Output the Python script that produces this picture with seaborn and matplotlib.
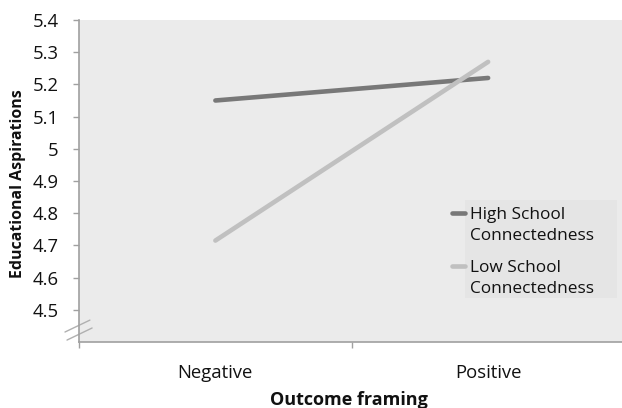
import numpy as np
import pandas as pd
import matplotlib
matplotlib.use("Agg")
import matplotlib.pyplot as plt
from matplotlib.legend_handler import HandlerLine2D
from matplotlib.patches import Rectangle
import seaborn as sns

# data
framing = ["Negative", "Positive"]
high_conn = [5.15, 5.22]
low_conn = [4.715, 5.27]
groups = ["High School\nConnectedness", "Low School\nConnectedness"]
yticks = [4.5, 4.6, 4.7, 4.8, 4.9, 5.0, 5.1, 5.2, 5.3, 5.4]
ytick_labels = ["4.5", "4.6", "4.7", "4.8", "4.9", "5", "5.1", "5.2", "5.3", "5.4"]
colors = ["#787878", "#c0c0c0"]

df = pd.DataFrame({
    "framing": framing * 2,
    "value": high_conn + low_conn,
    "group": [groups[0]] * 2 + [groups[1]] * 2,
})

sns.set_style("white")
plt.rcParams["font.family"] = ["Open Sans", "DejaVu Sans"]
plt.rcParams["text.color"] = "#111111"
plt.rcParams["xtick.color"] = "#a0a0a0"
plt.rcParams["ytick.color"] = "#a0a0a0"
plt.rcParams["xtick.labelcolor"] = "#111111"
plt.rcParams["ytick.labelcolor"] = "#111111"
plt.rcParams["axes.labelcolor"] = "#111111"

fig = plt.figure(figsize=(6.22, 4.08), dpi=100)
ax = fig.add_axes([79 / 622, 66 / 408, 545.5 / 622, 322 / 408])
ax.set_facecolor("#ebebeb")

sns.lineplot(data=df, x="framing", y="value", hue="group",
             palette=colors, linewidth=3.3, ax=ax,
             legend=False, sort=False)

ax.set_xlim(-0.5, 1.5)
ax.set_ylim(4.4, 5.4)
ax.set_yticks(yticks)
ax.set_yticklabels(ytick_labels)
ax.set_xticks([0, 1])
ax.set_xticklabels(framing)
ax.set_xticks([-0.5, 0.5, 1.5], minor=True)
ax.tick_params(axis="x", which="major", bottom=False, labelsize=13.3, pad=12)
ax.tick_params(axis="x", which="minor", bottom=True, length=4.5, width=1)
ax.tick_params(axis="y", which="major", left=True, length=4.5, width=1,
               labelsize=13.3, pad=10)

for s in ["top", "right"]:
    ax.spines[s].set_visible(False)
for s in ["left", "bottom"]:
    ax.spines[s].set_color("#a0a0a0")
    ax.spines[s].set_linewidth(1.2)

ax.set_xlabel("Outcome framing", fontsize=13, fontweight="bold")
ax.xaxis.set_label_coords(0.495, -0.152)
ax.set_ylabel("Educational Aspirations", fontsize=11.4, fontweight="bold")
ax.yaxis.set_label_coords(-0.098, 0.492)

# axis break marks
ax.plot([-0.0257, 0.020], [0.031, 0.068], transform=ax.transAxes,
        color="#b0b0b0", lw=1, clip_on=False)
ax.plot([-0.022, 0.024], [0.006, 0.0435], transform=ax.transAxes,
        color="#b0b0b0", lw=1, clip_on=False)

# legend background panel (handles sit just outside it)
ax.add_patch(Rectangle((0.7076, 0.1366), 0.279, 0.304, transform=ax.transAxes,
                       facecolor="#e5e5e5", edgecolor="none", zorder=0.5))


class FirstLineHandler(HandlerLine2D):
    # put the legend line level with the first text line
    def create_artists(self, legend, orig_handle, xdescent, ydescent,
                       width, height, fontsize, trans):
        arts = super().create_artists(legend, orig_handle, xdescent, ydescent,
                                      width, height, fontsize, trans)
        for a in arts:
            a.set_ydata(np.asarray(a.get_ydata()) + 0.7 * fontsize)
        return arts


handles = [plt.Line2D([], [], color=c, lw=3.3) for c in colors]
leg = ax.legend(handles, groups, loc="upper left", bbox_to_anchor=(0.684, 0.42),
                frameon=False, fontsize=12.4, handlelength=0.75, handletextpad=0.3,
                labelspacing=0.9, borderpad=0, borderaxespad=0,
                handler_map={plt.Line2D: FirstLineHandler()})
for t in leg.get_texts():
    t.set_linespacing(1.45)

fig.savefig("out.png", dpi=100)
